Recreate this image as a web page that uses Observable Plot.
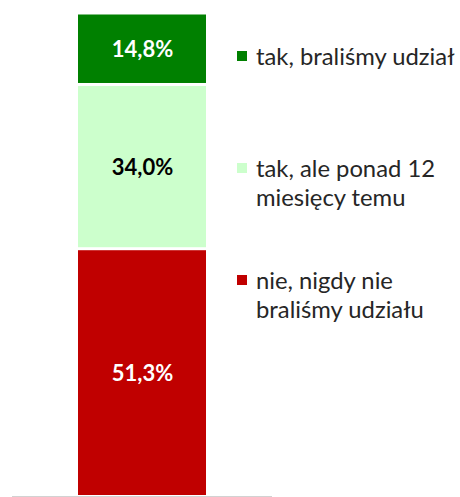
<!DOCTYPE html>
<html>
<head>
<meta charset="utf-8">
<script src="https://cdn.jsdelivr.net/npm/d3@7"></script>
<script src="https://cdn.jsdelivr.net/npm/@observablehq/plot@0.6"></script>
<style>
  html, body { margin: 0; padding: 0; background: #fff; }
  #wrap { position: relative; width: 460px; height: 497px; overflow: hidden; }
  #legend { position: absolute; left: 237px; top: 0; font-family: Lato, "Open Sans", sans-serif; font-size: 23.8px; color: #262626; }
  .item { position: absolute; left: 0; white-space: nowrap; }
  .sw { position: absolute; left: 0; width: 10px; height: 10px; }
  .lbl { position: absolute; left: 19px; line-height: 29px; }
</style>
</head>
<body>
<div id="wrap"><div id="legend"></div></div>
<script>
const categories = ["tak, braliśmy udział", "tak, ale ponad 12 miesięcy temu", "nie, nigdy nie braliśmy udziału"];
const legendLines = [["tak, braliśmy udział"], ["tak, ale ponad 12", "miesięcy temu"], ["nie, nigdy nie", "braliśmy udziału"]];
const values = [14.8, 34.0, 51.3];
const valueLabels = ["14,8%", "34,0%", "51,3%"];
const colors = ["#008000", "#ccffcc", "#c00000"];
const labelColors = ["#ffffff", "#000000", "#ffffff"];

const data = categories.map((c, i) => ({
  bar: "all", category: c, value: values[i], label: valueLabels[i], color: colors[i], labelColor: labelColors[i]
}));
const total = d3.sum(values);

const chart = Plot.plot({
  width: 460,
  height: 497,
  marginTop: 13,
  marginBottom: 0.5,
  marginLeft: 12,
  marginRight: 188,
  x: { domain: ["all"], padding: 0.34, axis: null },
  y: { domain: [0, total], axis: null },
  marks: [
    Plot.barY(data, Plot.stackY({ x: "bar", y: "value", fill: "color", reverse: true, insetTop: 1.5, insetBottom: 1.5 })),
    Plot.text(data, Plot.stackY({ x: "bar", y: "value", text: "label", fill: "labelColor", reverse: true,
      dy: 1, fontSize: 22, fontWeight: "bold", fontFamily: "Lato, 'Open Sans', sans-serif" })),
    Plot.ruleY([0], { stroke: "#a6a6a6", strokeWidth: 1.2 })
  ]
});
chart.style.position = "absolute";
chart.style.left = "0";
chart.style.top = "0";
document.getElementById("wrap").prepend(chart);

const legend = document.getElementById("legend");
legendLines.forEach((lines, i) => {
  const item = document.createElement("div");
  item.className = "item";
  item.style.top = (56 - 14.5 + i * 112) + "px";
  const sw = document.createElement("div");
  sw.className = "sw";
  sw.style.background = colors[i];
  sw.style.top = "9.5px";
  const lbl = document.createElement("div");
  lbl.className = "lbl";
  lbl.innerHTML = lines.join("<br>");
  item.append(sw, lbl);
  legend.append(item);
});
</script>
</body>
</html>
